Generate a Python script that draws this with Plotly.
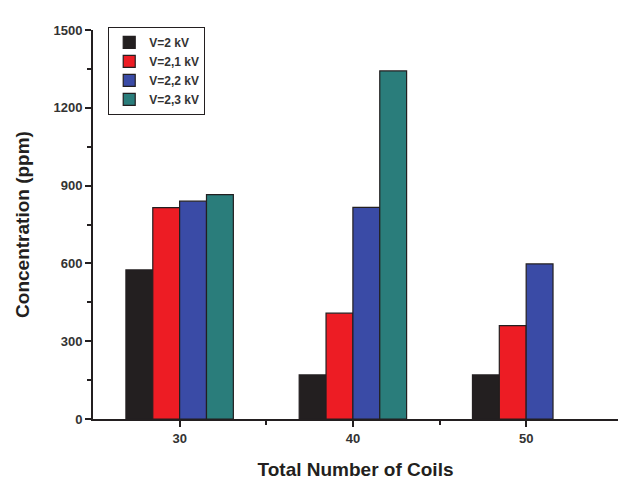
import plotly.graph_objects as go

coils = [30, 40, 50]
series_names = ["V=2 kV", "V=2,1 kV", "V=2,2 kV", "V=2,3 kV"]
v2_0 = [575, 170, 170]
v2_1 = [815, 408, 360]
v2_2 = [840, 816, 598]
v2_3 = [865, 1342, None]
colors = ["#231f20", "#ed1c24", "#3a4ba6", "#2a7d7b"]

fig = go.Figure()
for name, vals, col in zip(series_names, [v2_0, v2_1, v2_2, v2_3], colors):
    fig.add_trace(go.Bar(
        x=coils, y=vals, name=name,
        marker=dict(color=col, line=dict(color="#231f20", width=1.2)),
    ))

font_family = "Liberation Sans, Arial, sans-serif"
fig.update_layout(
    width=618, height=475,
    barmode="group", bargap=0.38, bargroupgap=0,
    plot_bgcolor="white", paper_bgcolor="white",
    margin=dict(l=85, r=8, t=22, b=64),
    font=dict(family=font_family, color="#333333"),
    showlegend=True,
    legend=dict(
        x=0.029, y=1.008, xanchor="left", yanchor="top",
        bgcolor="white", bordercolor="#231f20", borderwidth=1,
        font=dict(size=12, color="#333333", family=font_family, weight="bold"),
        tracegroupgap=0, itemwidth=30,
    ),
    xaxis=dict(
        range=[25, 55.3], tickvals=[30, 40, 50], automargin=False,
        showline=True, linecolor="#231f20", linewidth=2,
        ticks="outside", ticklen=6, tickwidth=2, tickcolor="#231f20",
        minor=dict(tickvals=[35, 45], ticks="outside", ticklen=4, tickwidth=2, tickcolor="#231f20"),
        showgrid=False, zeroline=False,
        tickfont=dict(size=13, color="#333333", weight="bold"),
        title=dict(text="Total Number of Coils", font=dict(size=19, color="#231f20", weight="bold"), standoff=18),
    ),
    yaxis=dict(
        range=[0, 1500], tickvals=[0, 300, 600, 900, 1200, 1500], automargin=False,
        showline=True, linecolor="#231f20", linewidth=2,
        ticks="outside", ticklen=6, tickwidth=2, tickcolor="#231f20",
        minor=dict(tickvals=[150, 450, 750, 1050, 1350], ticks="outside", ticklen=4, tickwidth=2, tickcolor="#231f20"),
        showgrid=False, zeroline=False,
        tickfont=dict(size=13, color="#333333", weight="bold"),
        title=dict(text="Concentration (ppm)", font=dict(size=19, color="#231f20", weight="bold"), standoff=19),
    ),
)

fig.write_html("out.html")
